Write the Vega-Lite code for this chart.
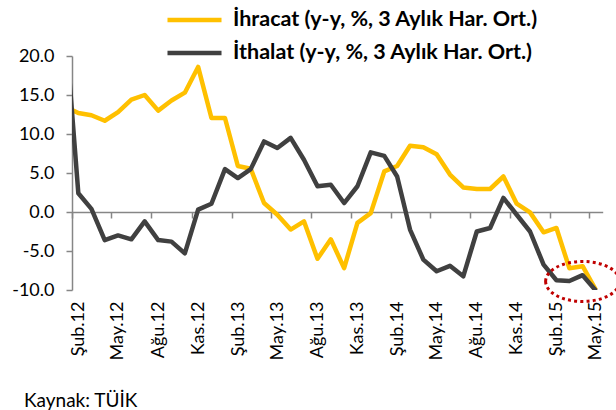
{
  "$schema": "https://vega.github.io/schema/vega-lite/v6.json",
  "autosize": "none",
  "width": 530.7,
  "height": 234,
  "padding": {"left": 72, "top": 56, "right": 13.3, "bottom": 120},
  "background": "#ffffff",
  "config": {"view": {"stroke": null}, "font": "Lato"},
  "title": {"text": "Kaynak: TÜİK", "orient": "bottom", "anchor": "start", "frame": "group", "font": "Lato", "fontSize": 19, "fontWeight": "normal", "color": "#000000", "dx": -48, "offset": 32},
  "datasets": {
    "seriler": [
      {"tarih": "2012-01-01", "İhracat": 13.5, "İthalat": 24.0},
      {"tarih": "2012-02-01", "İhracat": 12.7, "İthalat": 2.4},
      {"tarih": "2012-03-01", "İhracat": 12.4, "İthalat": 0.4},
      {"tarih": "2012-04-01", "İhracat": 11.7, "İthalat": -3.6},
      {"tarih": "2012-05-01", "İhracat": 12.8, "İthalat": -3.0},
      {"tarih": "2012-06-01", "İhracat": 14.4, "İthalat": -3.5},
      {"tarih": "2012-07-01", "İhracat": 15.0, "İthalat": -1.2},
      {"tarih": "2012-08-01", "İhracat": 13.0, "İthalat": -3.6},
      {"tarih": "2012-09-01", "İhracat": 14.3, "İthalat": -3.8},
      {"tarih": "2012-10-01", "İhracat": 15.3, "İthalat": -5.3},
      {"tarih": "2012-11-01", "İhracat": 18.6, "İthalat": 0.3},
      {"tarih": "2012-12-01", "İhracat": 12.05, "İthalat": 1.06},
      {"tarih": "2013-01-01", "İhracat": 12.05, "İthalat": 5.5},
      {"tarih": "2013-02-01", "İhracat": 5.9, "İthalat": 4.35},
      {"tarih": "2013-03-01", "İhracat": 5.55, "İthalat": 5.5},
      {"tarih": "2013-04-01", "İhracat": 1.15, "İthalat": 9.05},
      {"tarih": "2013-05-01", "İhracat": -0.35, "İthalat": 8.2},
      {"tarih": "2013-06-01", "İhracat": -2.25, "İthalat": 9.5},
      {"tarih": "2013-07-01", "İhracat": -1.2, "İthalat": 6.7},
      {"tarih": "2013-08-01", "İhracat": -6.0, "İthalat": 3.3},
      {"tarih": "2013-09-01", "İhracat": -3.5, "İthalat": 3.5},
      {"tarih": "2013-10-01", "İhracat": -7.2, "İthalat": 1.15},
      {"tarih": "2013-11-01", "İhracat": -1.4, "İthalat": 3.3},
      {"tarih": "2013-12-01", "İhracat": -0.15, "İthalat": 7.65},
      {"tarih": "2014-01-01", "İhracat": 5.2, "İthalat": 7.2},
      {"tarih": "2014-02-01", "İhracat": 5.9, "İthalat": 4.55},
      {"tarih": "2014-03-01", "İhracat": 8.5, "İthalat": -2.25},
      {"tarih": "2014-04-01", "İhracat": 8.3, "İthalat": -6.1},
      {"tarih": "2014-05-01", "İhracat": 7.4, "İthalat": -7.6},
      {"tarih": "2014-06-01", "İhracat": 4.8, "İthalat": -6.9},
      {"tarih": "2014-07-01", "İhracat": 3.15, "İthalat": -8.25},
      {"tarih": "2014-08-01", "İhracat": 2.95, "İthalat": -2.5},
      {"tarih": "2014-09-01", "İhracat": 2.95, "İthalat": -2.05},
      {"tarih": "2014-10-01", "İhracat": 4.55, "İthalat": 1.8},
      {"tarih": "2014-11-01", "İhracat": 1.06, "İthalat": -0.35},
      {"tarih": "2014-12-01", "İhracat": -0.05, "İthalat": -2.5},
      {"tarih": "2015-01-01", "İhracat": -2.6, "İthalat": -6.75},
      {"tarih": "2015-02-01", "İhracat": -2.05, "İthalat": -8.75},
      {"tarih": "2015-03-01", "İhracat": -7.2, "İthalat": -8.85},
      {"tarih": "2015-04-01", "İhracat": -6.95, "İthalat": -8.1},
      {"tarih": "2015-05-01", "İhracat": -10.0, "İthalat": -10.1}
    ],
    "isaret": [
      {"tarih": "2015-04-01", "deger": -8.9}
    ]
  },
  "encoding": {
    "y": {
      "field": "deger", "type": "quantitative",
      "scale": {"domain": [-10, 20]},
      "axis": {
        "values": [-10, -5, 0, 5, 10, 15, 20],
        "labelExpr": "replace(format(datum.value, '.1f'), '−', '-')",
        "labelFont": "Lato", "labelFontSize": 18, "labelColor": "#000000", "labelPadding": 12,
        "labelOverlap": false,
        "tickSize": 6, "tickColor": "#868686", "tickWidth": 1.5,
        "domainColor": "#868686", "domainWidth": 1.5,
        "grid": false, "title": null
      }
    }
  },
  "resolve": {"axis": {"x": "independent"}},
  "layer": [
    {
      "data": {"name": "seriler"},
      "transform": [{"fold": ["İhracat", "İthalat"], "as": ["seri", "deger"]}],
      "mark": {"type": "line", "strokeWidth": 4.5, "strokeJoin": "round", "clip": true},
      "encoding": {
        "x": {
          "field": "tarih", "type": "temporal", "timeUnit": "utcyearmonth", "bandPosition": 0.5,
          "scale": {"type": "utc", "domain": [{"year": 2012, "month": 2, "date": 1, "utc": true}, {"year": 2015, "month": 6, "date": 1, "utc": true}]},
          "axis": {
            "orient": "bottom",
            "values": [
              {"year": 2012, "month": 2, "date": 1, "utc": true}, {"year": 2012, "month": 5, "date": 1, "utc": true},
              {"year": 2012, "month": 8, "date": 1, "utc": true}, {"year": 2012, "month": 11, "date": 1, "utc": true},
              {"year": 2013, "month": 2, "date": 1, "utc": true}, {"year": 2013, "month": 5, "date": 1, "utc": true},
              {"year": 2013, "month": 8, "date": 1, "utc": true}, {"year": 2013, "month": 11, "date": 1, "utc": true},
              {"year": 2014, "month": 2, "date": 1, "utc": true}, {"year": 2014, "month": 5, "date": 1, "utc": true},
              {"year": 2014, "month": 8, "date": 1, "utc": true}, {"year": 2014, "month": 11, "date": 1, "utc": true},
              {"year": 2015, "month": 2, "date": 1, "utc": true}, {"year": 2015, "month": 5, "date": 1, "utc": true}
            ],
            "labelExpr": "['Oca','Şub','Mar','Nis','May','Haz','Tem','Ağu','Eyl','Eki','Kas','Ara'][utcmonth(datum.value)] + '.' + utcFormat(datum.value, '%y')",
            "labelAngle": 270, "labelAlign": "right", "labelBaseline": "middle",
            "labelFont": "Lato", "labelFontSize": 18, "labelColor": "#000000",
            "labelPadding": 11, "labelOffset": 6.6, "labelOverlap": false, "labelFlush": false,
            "domain": false, "ticks": false, "tickSize": 0, "grid": false, "title": null
          }
        },
        "color": {
          "field": "seri", "type": "nominal",
          "scale": {"domain": ["İhracat", "İthalat"], "range": ["#FFC000", "#404040"]},
          "legend": {
            "orient": "none", "legendX": 109, "legendY": -49.5, "direction": "vertical",
            "title": null, "padding": 0,
            "symbolType": "M-2.5,0H2.5", "symbolSize": 467, "symbolStrokeWidth": 4.5,
            "labelExpr": "datum.label + ' (y-y, %, 3 Aylık Har. Ort.)'",
            "labelFont": "Lato", "labelFontWeight": "bold", "labelFontSize": 21.5,
            "labelColor": "#000000", "labelOffset": 25, "labelLimit": 500, "rowPadding": 9
          }
        }
      }
    },
    {
      "data": {"name": "seriler"},
      "transform": [{"fold": ["İhracat", "İthalat"], "as": ["seri", "deger"]}],
      "mark": {"type": "point", "opacity": 0},
      "encoding": {
        "x": {
          "field": "tarih", "type": "temporal", "timeUnit": "utcyearmonth", "bandPosition": 0.5,
          "axis": {
            "orient": "bottom",
            "values": [
              {"year": 2012, "month": 2, "date": 1, "utc": true}, {"year": 2012, "month": 5, "date": 1, "utc": true},
              {"year": 2012, "month": 8, "date": 1, "utc": true}, {"year": 2012, "month": 11, "date": 1, "utc": true},
              {"year": 2013, "month": 2, "date": 1, "utc": true}, {"year": 2013, "month": 5, "date": 1, "utc": true},
              {"year": 2013, "month": 8, "date": 1, "utc": true}, {"year": 2013, "month": 11, "date": 1, "utc": true},
              {"year": 2014, "month": 2, "date": 1, "utc": true}, {"year": 2014, "month": 5, "date": 1, "utc": true},
              {"year": 2014, "month": 8, "date": 1, "utc": true}, {"year": 2014, "month": 11, "date": 1, "utc": true},
              {"year": 2015, "month": 2, "date": 1, "utc": true}, {"year": 2015, "month": 5, "date": 1, "utc": true}
            ],
            "offset": -78, "labels": false, "domain": true, "ticks": true, "tickSize": 6,
            "domainColor": "#868686", "tickColor": "#868686", "domainWidth": 1.5, "tickWidth": 1.5,
            "grid": false, "title": null
          }
        }
      }
    },
    {
      "data": {"name": "isaret"},
      "mark": {
        "type": "point", "filled": false, "clip": false,
        "shape": "M-1.85,0A1.85,1 0 1 0 1.85,0A1.85,1 0 1 0 -1.85,0Z",
        "size": 1600, "stroke": "#C00000", "strokeWidth": 3, "strokeDash": [3, 3.2], "opacity": 1
      },
      "encoding": {
        "x": {"field": "tarih", "type": "temporal", "timeUnit": "utcyearmonth", "bandPosition": 0.5, "axis": null}
      }
    }
  ]
}
